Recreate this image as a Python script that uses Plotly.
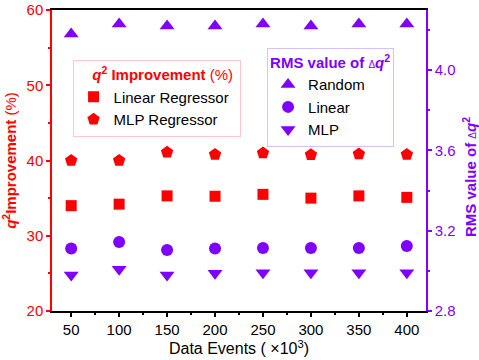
import plotly.graph_objects as go

events = [50, 100, 150, 200, 250, 300, 350, 400]
linear_reg = [34.0, 34.2, 35.3, 35.25, 35.5, 35.0, 35.3, 35.1]
mlp_reg = [40.0, 40.0, 41.1, 40.8, 41.0, 40.75, 40.85, 40.8]
rms_random = [4.18, 4.23, 4.22, 4.22, 4.23, 4.22, 4.23, 4.23]
rms_linear = [3.112, 3.144, 3.104, 3.112, 3.114, 3.114, 3.114, 3.124]
rms_mlp = [2.98, 3.008, 2.98, 2.988, 2.99, 2.99, 2.99, 2.99]

RED = "#FF0000"
PUR = "#7F00FF"
FONT = "Liberation Sans, Arial, sans-serif"
RMS_TITLE = "<b>RMS value of </b><span style='font-size:10px'>Δ</span><b><i>q</i><sup>2</sup></b>"

fig = go.Figure()
fig.add_trace(go.Scatter(x=events, y=linear_reg, mode="markers", name="Linear Regressor",
                         marker=dict(symbol="square", size=11, color=RED), legend="legend"))
fig.add_trace(go.Scatter(x=events, y=mlp_reg, mode="markers", name="MLP Regressor",
                         marker=dict(symbol="pentagon", size=13, color=RED), legend="legend"))
fig.add_trace(go.Scatter(x=events, y=rms_random, mode="markers", name="Random", yaxis="y2",
                         marker=dict(symbol="triangle-up", size=13, color=PUR), legend="legend2"))
fig.add_trace(go.Scatter(x=events, y=rms_linear, mode="markers", name="Linear", yaxis="y2",
                         marker=dict(symbol="circle", size=12, color=PUR), legend="legend2"))
fig.add_trace(go.Scatter(x=events, y=rms_mlp, mode="markers", name="MLP", yaxis="y2",
                         marker=dict(symbol="triangle-down", size=13, color=PUR), legend="legend2"))

fig.update_layout(
    width=479, height=360, autosize=False,
    margin=dict(l=52, r=53, t=10, b=49, autoexpand=False),
    paper_bgcolor="white", plot_bgcolor="white",
    font=dict(family=FONT, size=15, color="black"),
    showlegend=True,
    xaxis=dict(
        range=[30, 420], tick0=50, dtick=50, showgrid=False, zeroline=False, automargin=False,
        showline=True, linecolor="black", linewidth=1.5, mirror=True,
        ticks="outside", ticklen=4, tickwidth=1.5, tickcolor="black",
        minor=dict(ticks="outside", ticklen=2.5, dtick=25, tick0=25, tickcolor="black", tickwidth=1.5),
        tickfont=dict(size=15, color="black"),
        title=dict(text="Data Events ( ×10<sup>3</sup>)", font=dict(size=16, color="black"), standoff=4),
    ),
    yaxis=dict(
        range=[20, 60], tick0=20, dtick=10, showgrid=False, zeroline=False, automargin=False,
        showline=True, linecolor=RED, linewidth=1.5,
        ticks="outside", ticklen=4, tickwidth=1.5, tickcolor=RED,
        minor=dict(ticks="outside", ticklen=2.5, dtick=5, tickcolor=RED, tickwidth=1.5),
        tickfont=dict(size=15, color=RED),
        title=dict(text="<b><i>q</i><sup>2</sup>Improvement</b> (%)", font=dict(size=15, color=RED), standoff=6),
    ),
    yaxis2=dict(
        overlaying="y", side="right", anchor="x", automargin=False,
        range=[2.8, 4.3], tick0=2.8, dtick=0.4, tickformat=".1f", showgrid=False, zeroline=False,
        showline=True, linecolor=PUR, linewidth=1.5,
        ticks="outside", ticklen=4, tickwidth=1.5, tickcolor=PUR,
        minor=dict(ticks="outside", ticklen=2.5, dtick=0.2, tick0=2.8, tickcolor=PUR, tickwidth=1.5),
        tickfont=dict(size=15, color=PUR),
    ),
    annotations=[dict(
        text=RMS_TITLE, xref="paper", yref="paper", x=1, y=0.445, xshift=43,
        xanchor="center", yanchor="middle", textangle=-90, showarrow=False,
        font=dict(size=15, color=PUR),
    )],
    legend=dict(
        x=0.055, y=0.834, xanchor="left", yanchor="top",
        bordercolor="#FFC8C8", borderwidth=1, bgcolor="white",
        title=dict(text="&nbsp;&nbsp;&nbsp;&nbsp;<b><i>q</i><sup>2</sup> Improvement</b> (%)&nbsp;",
                   font=dict(size=15, color=RED), side="top"),
        font=dict(size=15, color="black"), tracegroupgap=0, itemwidth=30,
    ),
    legend2=dict(
        x=0.575, y=0.875, xanchor="left", yanchor="top",
        bordercolor="#D9BFFF", borderwidth=1, bgcolor="white",
        title=dict(text=RMS_TITLE, font=dict(size=15, color=PUR), side="top"),
        font=dict(size=15, color="black"), tracegroupgap=0, itemwidth=30,
    ),
)

fig.write_html("out.html", config={"responsive": False, "displayModeBar": False},
               post_script="document.body.style.margin='0';document.body.style.overflow='hidden';")
